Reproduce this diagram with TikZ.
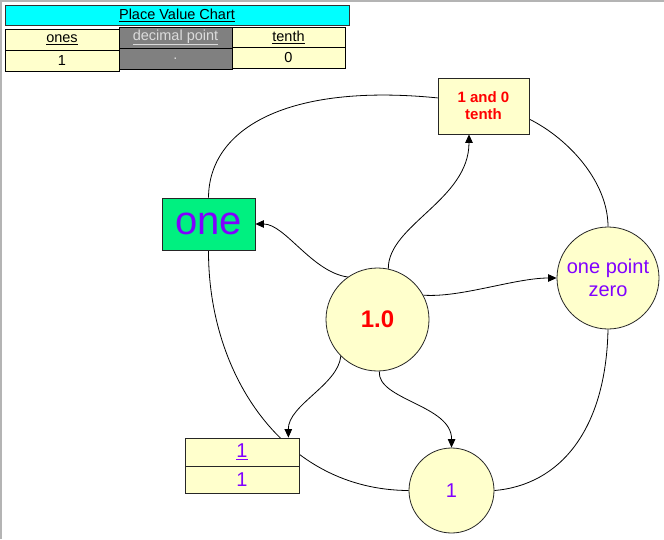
\documentclass[tikz,border=0pt]{standalone}
\usepackage{fontspec}
\setmainfont{Liberation Sans}
\usetikzlibrary{arrows.meta,calc,backgrounds}
\definecolor{cellyellow}{RGB}{255,255,204}
\definecolor{titlecyan}{RGB}{0,255,255}
\definecolor{dpgray}{RGB}{128,128,128}
\definecolor{dptext}{RGB}{220,220,220}
\definecolor{onegreen}{RGB}{0,240,128}
\definecolor{txtpurple}{RGB}{128,0,255}
\definecolor{framegray}{RGB}{180,180,180}
\begin{document}
\begin{tikzpicture}[x=1pt,y=-1pt,
  cell/.style={draw=black,line width=1pt,fill=cellyellow,inner sep=0pt,
    minimum width=113pt,minimum height=21pt,font=\fontsize{14.5}{17}\selectfont},
  dpcell/.style={cell,fill=dpgray,text=dptext},
  titlebox/.style={draw=black!80,line width=1pt,fill=titlecyan,inner sep=0pt,
    minimum width=344pt,minimum height=20pt,font=\fontsize{14.5}{17}\selectfont},
  circ/.style={circle,draw=black!85,line width=0.8pt,fill=cellyellow,inner sep=0pt},
  rbox/.style={rectangle,draw=black!85,line width=0.8pt,inner sep=0pt},
  ring/.style={draw=black,line width=0.8pt},
  arr/.style={draw=black,line width=0.8pt,-{Triangle[length=8.5pt,width=7.5pt]}}
]
\useasboundingbox (0,0) rectangle (664,539);
% place value chart
\node[titlebox] (title) at (177,15) {\underline{Place Value Chart}};
\node[cell,minimum width=114pt] (onesh) at (62,39.5) {\underline{ones}};
\node[cell,minimum width=114pt] (onesv) at (62,60.5) {1};
\node[dpcell] (dph) at (175.5,37.5) {\underline{decimal point}};
\node[dpcell] (dpv) at (175.5,58.5) {.};
\node[cell] (tenh) at (288.5,37.5) {\underline{tenth}};
\node[cell] (tenv) at (288.5,58) {0};
% diagram nodes
\node[rbox,fill=cellyellow,minimum width=91pt,minimum height=56pt,align=center,
  text=red,font=\fontsize{15}{17}\selectfont\bfseries] (tenth) at (483.5,106) {1 and 0\\tenth};
\node[rbox,fill=onegreen,minimum width=93pt,minimum height=52pt,text=txtpurple,
  font=\fontsize{40}{44}\selectfont] (one) at (208.5,224) {one};
\node[circ,minimum size=103pt,text=red,font=\fontsize{24}{28}\selectfont\bfseries] (c0) at (377.5,319.5) {1.0};
\node[circ,minimum size=102pt,align=center,text=txtpurple,font=\fontsize{20}{22.7}\selectfont] (opz) at (608,278) {one point\\zero};
\node[circ,minimum size=85pt,text=txtpurple,font=\fontsize{20}{22}\selectfont] (c1) at (451.5,490.5) {1};
\node[rbox,fill=cellyellow,minimum width=114pt,minimum height=28pt,text=txtpurple,
  font=\fontsize{20}{22}\selectfont] (fracnum) at (242,452) {\underline{1}};
\node[rbox,fill=cellyellow,minimum width=114pt,minimum height=27pt,text=txtpurple,
  font=\fontsize{20}{22}\selectfont] (fracden) at (242,479.5) {1};
% connectors
\begin{scope}[on background layer]
\fill[white] (0,0) rectangle (664,539);
\draw[framegray,line width=1.5pt] (0.75,539) -- (0.75,0.75) -- (664,0.75);
\draw[ring] (one.north) .. controls (209,128) and (288,83) .. (tenth.170);
\draw[ring] (tenth.344) .. controls (569,139) and (608,182) .. (opz.north);
\draw[ring] (opz.south) .. controls (606,430) and (560,485) .. (c1.east);
\draw[ring] (c1.west) .. controls (284,490) and (208,375) .. (one.south);
\draw[arr] (c0.125) .. controls (312,272) and (285,224) .. (one.east);
\draw[arr] (c0.78) .. controls (388,225) and (469,200) .. ($(tenth.south)+(-14.5,0)$);
\draw[arr] (c0.28) .. controls (460,298) and (515,278) .. (opz.west);
\draw[arr] (c0.225) .. controls (338,385) and (288,405) .. ($(fracnum.north east)+(-11,0)$);
\draw[arr] (c0.272) .. controls (377,400) and (452,405) .. (c1.north);
\end{scope}
\end{tikzpicture}
\end{document}
